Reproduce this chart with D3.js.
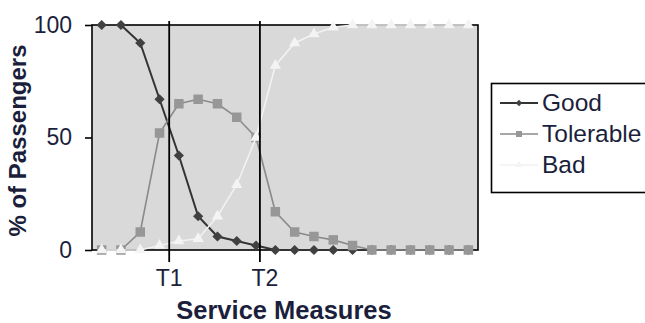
<!DOCTYPE html>
<html><head><meta charset="utf-8">
<script src="https://cdn.jsdelivr.net/npm/d3@7"></script>
<style>body{margin:0;background:#fff}svg{display:block}</style>
</head><body><svg id="c" width="645" height="323"></svg>
<script>
// ---- data ----
const categories = d3.range(20); // service measure levels (unlabelled)
const good      = [100,100,92,67,42,15,6,4,2,0,0,0,0,0,0,0,0,0,0,0];
const tolerable = [0,0,8,52,65,67,65,59,50,17,8,6,4.5,2,0,0,0,0,0,0];
const bad       = [0,0,0,2,4,5,15,29,50,82,92,96,99,100,100,100,100,100,100,100];
const yTicks = [0,50,100];
const thresholdLabels = ["T1","T2"];
const thresholdAt = [3.5, 8.2]; // position in category units
const seriesNames = ["Good","Tolerable","Bad"];

// ---- layout ----
const svg = d3.select("#c");
const L = 92, R = 478, T = 25, B = 250;
const font = "'Liberation Sans', Arial, sans-serif";
const textCol = "#1b1f3b";

const x = d3.scaleLinear().domain([-0.5, categories.length - 0.5]).range([L, R]);
const y = d3.scaleLinear().domain([0, 100]).range([B, T]);

// plot area
svg.append("rect").attr("x", L).attr("y", T).attr("width", R - L).attr("height", B - T)
  .attr("fill", "#d9d9d9").attr("stroke", "#000").attr("stroke-width", 1.6);

// y axis
const ya = svg.append("g").attr("transform", `translate(${L},0)`)
  .call(d3.axisLeft(y).tickValues(yTicks).tickSize(7).tickPadding(13));
ya.select(".domain").remove();
ya.selectAll(".tick line").attr("stroke", "#000").attr("stroke-width", 1.6);
ya.selectAll(".tick text").attr("font-family", font).attr("font-size", 23).attr("fill", textCol);

// series
const styles = [
  {data: good, line: "#333", lw: 2, fill: "#404040", type: "diamond", size: 52},
  {data: tolerable, line: "#8a8a8a", lw: 1.6, fill: "#979797", type: "square", size: 90},
  {data: bad, line: "#f2f2f2", lw: 1.6, fill: "#f4f4f4", type: "triangle", size: 55}
];
function symPath(type, size) {
  const t = type === "triangle" ? d3.symbolTriangle : d3.symbolSquare;
  return d3.symbol().type(t).size(size)();
}
const lineGen = d3.line().x((d, i) => x(i)).y(d => y(d));
styles.forEach(s => {
  const g = svg.append("g");
  g.append("path").attr("d", lineGen(s.data)).attr("fill", "none")
    .attr("stroke", s.line).attr("stroke-width", s.lw);
  g.selectAll("path.m").data(s.data).join("path").attr("class", "m")
    .attr("d", symPath(s.type, s.size))
    .attr("transform", (d, i) => `translate(${x(i)},${y(d)})` + (s.type === "diamond" ? " rotate(45)" : ""))
    .attr("fill", s.fill);
});

// threshold lines + labels
thresholdAt.forEach((v, i) => {
  svg.append("line").attr("x1", x(v)).attr("x2", x(v)).attr("y1", T - 4).attr("y2", B + 12)
    .attr("stroke", "#000").attr("stroke-width", 1.8);
  svg.append("text").attr("x", x(v) + (i === 1 ? 5 : 0)).attr("y", 286)
    .attr("text-anchor", "middle").attr("font-family", font).attr("font-size", 23)
    .attr("fill", textCol).text(thresholdLabels[i]);
});

// axis titles
svg.append("text").attr("x", (L + R) / 2 - 1).attr("y", 319).attr("text-anchor", "middle")
  .attr("font-family", font).attr("font-weight", "bold").attr("font-size", 25.5)
  .attr("fill", textCol).text("Service Measures");
svg.append("text").attr("transform", `translate(26,${(T + B) / 2 + 3}) rotate(-90)`)
  .attr("text-anchor", "middle").attr("font-family", font).attr("font-weight", "bold")
  .attr("font-size", 24).attr("fill", textCol).text("% of Passengers");

// legend
const lg = svg.append("g");
lg.append("rect").attr("x", 491.5).attr("y", 83.5).attr("width", 180).attr("height", 109)
  .attr("fill", "#fff").attr("stroke", "#000").attr("stroke-width", 1.6);
seriesNames.forEach((n, i) => {
  const s = styles[i], yy = 103 + i * 31;
  lg.append("line").attr("x1", 500).attr("x2", 538).attr("y1", yy).attr("y2", yy)
    .attr("stroke", s.line).attr("stroke-width", s.lw);
  lg.append("path").attr("d", symPath(s.type, s.size * 0.4))
    .attr("transform", `translate(519,${yy})` + (s.type === "diamond" ? " rotate(45)" : ""))
    .attr("fill", s.fill);
  lg.append("text").attr("x", 542).attr("y", yy + 8).attr("font-family", font)
    .attr("font-size", 24.5).attr("fill", textCol).text(n);
});
</script></body></html>
